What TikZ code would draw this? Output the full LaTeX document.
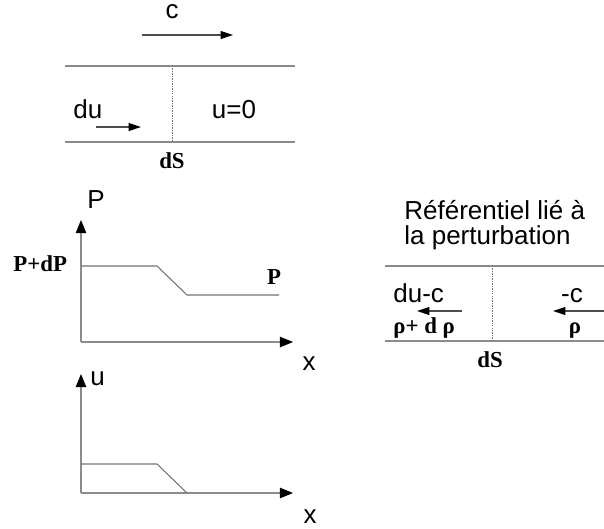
\documentclass[tikz,border=0pt]{standalone}
\usepackage{fontspec}
\setmainfont{Liberation Sans}
\newfontfamily\tnr{Liberation Serif}
\usetikzlibrary{arrows.meta,positioning}

\begin{document}
\begin{tikzpicture}[
    x=0.02cm, y=-0.02cm,
    wall/.style={draw=black!45, line width=0.6pt},
    front/.style={draw=black!55, line width=0.5pt, dash pattern=on 0.8pt off 0.6pt},
    axis/.style={draw=black!45, line width=0.6pt, -{Triangle[length=7.5pt, width=6pt, black]}},
    flow/.style={draw=black!70, line width=0.6pt, -{Triangle[length=7pt, width=4.5pt, black]}},
    curve/.style={draw=black!55, line width=0.6pt},
    lbl/.style={inner sep=0pt, anchor=base, font=\fontsize{14.8}{16}\selectfont},
    val/.style={inner sep=0pt, anchor=base, font=\tnr\bfseries\fontsize{13}{14}\selectfont}
]
\useasboundingbox (0,0) rectangle (604,528);

% Tube in the fixed frame
\coordinate (tl) at (65,66);
\coordinate (tr) at (295,66);
\coordinate (bl) at (65,142);
\coordinate (br) at (295,142);
\coordinate (ft) at (172,66);
\coordinate (fb) at (172,142);
\coordinate (cA) at (142,35);
\coordinate (cB) at (233,35);
\coordinate (duA) at (96,127);
\coordinate (duB) at (141,127);

\draw[wall] (tl) -- (tr);
\draw[wall] (bl) -- (br);
\draw[front] (ft) -- (fb);
\draw[flow] (cA) -- (cB);
\draw[flow] (duA) -- (duB);

\node[lbl] (c) at (172,18) {c};
\node[lbl, anchor=base west] (du) at (73,118) {du};
\node[lbl] (u0) at (234,118) {u=0};
\node[val] (dS1) at (172,168) {dS};

% Pressure profile
\coordinate (pO) at (81,342);
\coordinate (pY) at (81,220);
\coordinate (pX) at (293,342);
\coordinate (p1) at (81,266);
\coordinate (p2) at (157,266);
\coordinate (p3) at (187,295);
\coordinate (p4) at (279,295);

\draw[axis] (pO) -- (pY);
\draw[axis] (pO) -- (pX);
\draw[curve] (p1) -- (p2) -- (p3) -- (p4);

\node[lbl] (Plab) at (96,208) {P};
\node[val, anchor=base west] (PdP) at (13,271) {P+dP};
\node[val] (P) at (274,284) {P};
\node[lbl] (xP) at (309,370) {x};

% Velocity profile
\coordinate (uO) at (81,493);
\coordinate (uY) at (81,374);
\coordinate (uX) at (293,493);
\coordinate (u1) at (81,464);
\coordinate (u2) at (157,464);
\coordinate (u3) at (187,493);

\draw[axis] (uO) -- (uY);
\draw[axis] (uO) -- (uX);
\draw[curve] (u1) -- (u2) -- (u3);

\node[lbl, anchor=base west] (ulab) at (90,385) {u};
\node[lbl] (xu) at (310,523) {x};

% Frame moving with the perturbation
\node[lbl, anchor=base west, align=left, font=\fontsize{14.8}{14}\selectfont] (ref) at (404,244)
    {Référentiel lié à\\la perturbation};

\coordinate (rtl) at (385,266);
\coordinate (rtr) at (604,266);
\coordinate (rbl) at (385,341);
\coordinate (rbr) at (604,341);
\coordinate (rft) at (492,266);
\coordinate (rfb) at (492,341);
\coordinate (lA) at (462,311);
\coordinate (lB) at (417,311);
\coordinate (rA) at (604,311);
\coordinate (rB) at (553,311);

\draw[wall] (rtl) -- (rtr);
\draw[wall] (rbl) -- (rbr);
\draw[front] (rft) -- (rfb);
\draw[flow] (lA) -- (lB);
\draw[flow] (rA) -- (rB);

\node[lbl, anchor=base west] (duc) at (393,302) {du-c};
\node[lbl] (mc) at (572,302) {-c};
\node[val, anchor=base west] (rho1) at (393,333) {ρ+ d ρ};
\node[val] (rho2) at (575,333) {ρ};
\node[val] (dS2) at (490,367) {dS};
\end{tikzpicture}
\end{document}
